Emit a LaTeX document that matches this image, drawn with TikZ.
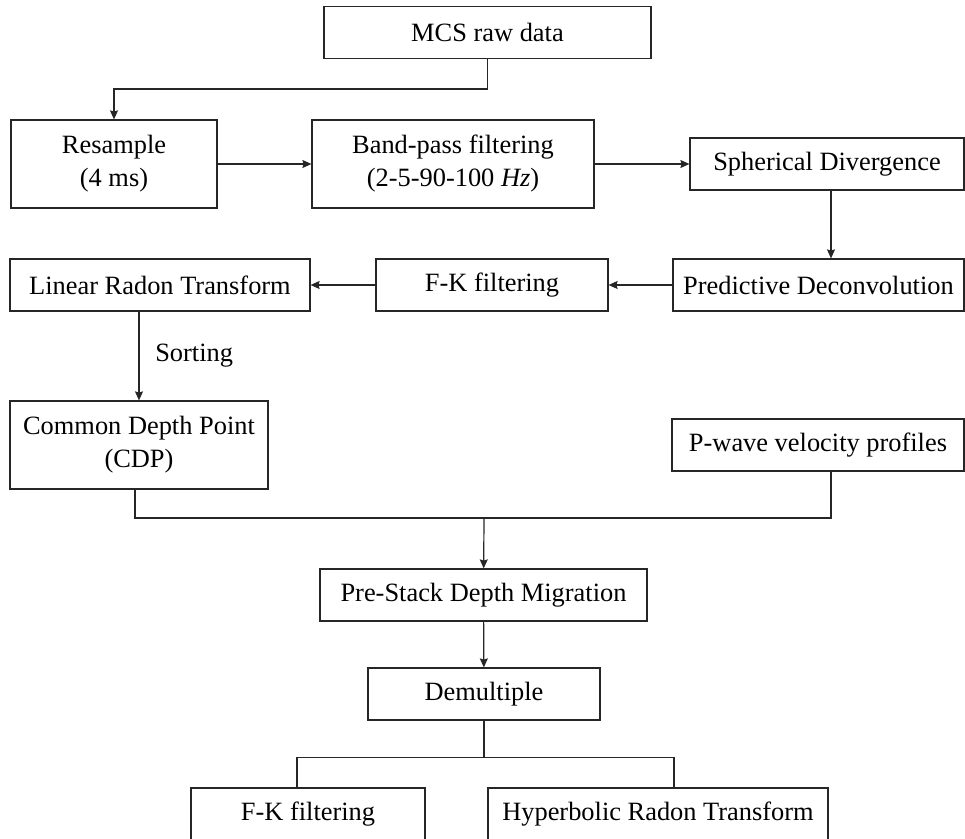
\documentclass[tikz,border=0pt]{standalone}
\usepackage{fontspec}
\setmainfont{Liberation Serif}
\usepackage{tikz}
\usetikzlibrary{arrows.meta,positioning}

\begin{document}
\begin{tikzpicture}[>={Stealth[length=4.5pt,width=4pt,inset=0.6pt]},x=0.5pt,y=-0.5pt,semithick,font=\fontsize{13.2}{16.5}\selectfont]
\tikzstyle{box} = [rectangle,draw=black!85,align=center,inner sep=0pt,minimum height=26pt]
\tikzstyle{tall} = [minimum height=44pt]
    \useasboundingbox (0,0) rectangle (965,839);

    \node[box,minimum width=163.5pt] (raw) at (487.5,32.5) {MCS raw data};
    \node[box,tall,minimum width=103pt] (resmp) at (114,164) {Resample\\(4 ms)};
    \node[box,tall,minimum width=141pt] (bpf) at (453,164) {Band-pass filtering\\(2-5-90-100 \textit{Hz})};
    \node[box,minimum width=137pt] (sphdiv) at (827,164) {Spherical Divergence};
    \node[box,minimum width=145.5pt] (pdecon) at (818.5,285) {Predictive Deconvolution};
    \node[box,minimum width=116pt] (fk1) at (492,285) {F-K filtering};
    \node[box,minimum width=150pt] (lrt) at (160,285) {Linear Radon Transform};
    \node[box,tall,minimum width=129pt] (cdp) at (139,445) {Common Depth Point\\(CDP)};
    \node[box,minimum width=146pt] (pvel) at (818,445) {P-wave velocity profiles};
    \node[box,minimum width=163.5pt] (psdm) at (483.5,595) {Pre-Stack Depth Migration};
    \node[box,minimum width=116pt] (demul) at (484,694) {Demultiple};
    \node[box,minimum width=117pt] (fk2) at (308,814) {F-K filtering};
    \node[box,minimum width=170pt] (hrt) at (658,814) {Hyperbolic Radon Transform};

    \tikzset{flow/.style={->,draw=black!85}}
    \draw[flow] (raw.south) -- ++(0,30) -| (resmp.north);
    \draw[flow] (resmp) -- (bpf);
    \draw[flow] (bpf) -- (sphdiv);
    \draw[flow] ([xshift=2pt]sphdiv.south) -- ([xshift=2pt]sphdiv.south |- pdecon.north);
    \draw[flow] (pdecon) -- (fk1);
    \draw[flow] (fk1) -- (lrt);
    \draw[flow] (cdp.north |- lrt.south) -- node[right=4.5pt] {Sorting} (cdp.north);

    \coordinate (join) at (484,518);
    \draw[draw=black!85] ([xshift=-2pt]cdp.south) |- (join) -| ([xshift=6.5pt]pvel.south);
    \draw[flow] (join) -- (psdm);
    \draw[flow] (psdm) -- (demul);
    \draw[draw=black!85] (demul.south) -- ++(0,37) coordinate (split);
    \draw[draw=black!85] ([xshift=-5.5pt]fk2.north) |- (split) -| ([xshift=8pt]hrt.north);
\end{tikzpicture}
\end{document}
